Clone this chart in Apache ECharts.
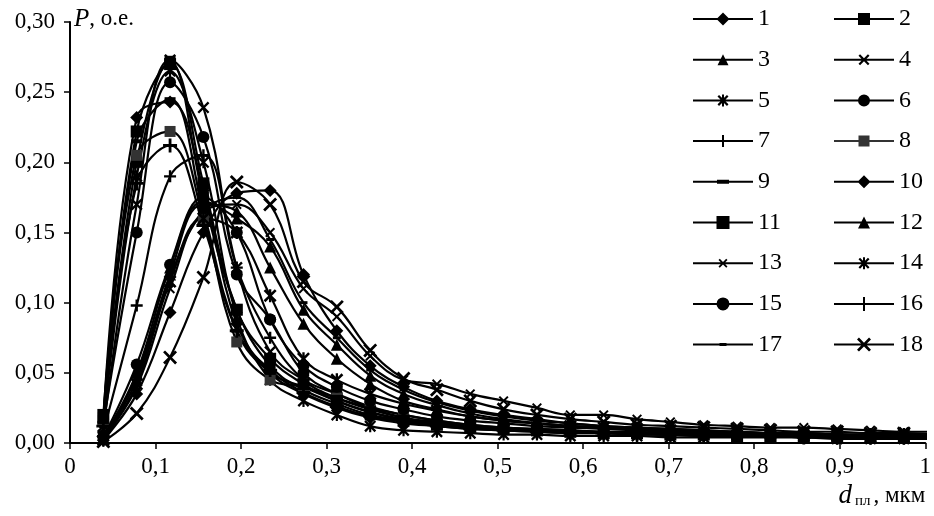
<!DOCTYPE html>
<html>
<head>
<meta charset="utf-8">
<script src="https://cdn.jsdelivr.net/npm/echarts@6/dist/echarts.min.js"></script>
<style>html,body{margin:0;padding:0;background:#fff;}#c{width:934px;height:516px;}</style>
</head>
<body>
<div id="c"></div>
<script>
// x values (d, мкм)
const xValues = [0.039,0.078,0.117,0.156,0.195,0.234,0.273,0.312,0.351,0.390,0.429,0.468,0.507,0.546,0.585,0.624,0.663,0.702,0.741,0.780,0.819,0.858,0.897,0.936,0.975,1.014];
const seriesNames = ['1','2','3','4','5','6','7','8','9','10','11','12','13','14','15','16','17','18'];
const yTicks = [0,0.05,0.10,0.15,0.20,0.25,0.30];
const xTicks = [0,0.1,0.2,0.3,0.4,0.5,0.6,0.7,0.8,0.9,1];

const p1  = [0.015,0.232,0.243,0.180,0.085,0.050,0.035,0.025,0.018,0.014,0.012,0.010,0.009,0.008,0.007,0.007,0.006,0.006,0.005,0.005,0.005,0.004,0.004,0.004,0.004,0.004];
const p2  = [0.018,0.200,0.272,0.175,0.095,0.055,0.038,0.028,0.020,0.016,0.013,0.011,0.010,0.009,0.008,0.007,0.007,0.006,0.006,0.005,0.005,0.005,0.004,0.004,0.004,0.004];
const p3  = [0.003,0.045,0.120,0.170,0.165,0.125,0.085,0.060,0.042,0.030,0.024,0.019,0.016,0.014,0.012,0.011,0.010,0.009,0.008,0.007,0.007,0.006,0.006,0.005,0.005,0.005];
const p4  = [0.010,0.170,0.273,0.239,0.125,0.065,0.045,0.035,0.026,0.020,0.016,0.013,0.011,0.010,0.009,0.008,0.007,0.007,0.006,0.006,0.005,0.005,0.005,0.005,0.004,0.004];
const p5  = [0.012,0.190,0.265,0.200,0.090,0.045,0.030,0.020,0.012,0.009,0.008,0.007,0.006,0.006,0.005,0.005,0.005,0.004,0.004,0.004,0.004,0.004,0.003,0.003,0.003,0.003];
const p6  = [0.014,0.150,0.257,0.218,0.120,0.088,0.050,0.035,0.025,0.018,0.014,0.012,0.010,0.009,0.008,0.007,0.007,0.006,0.006,0.005,0.005,0.005,0.005,0.004,0.004,0.004];
const p7  = [0.008,0.098,0.190,0.205,0.125,0.075,0.045,0.032,0.024,0.018,0.015,0.012,0.010,0.009,0.008,0.007,0.007,0.006,0.006,0.005,0.005,0.005,0.004,0.004,0.004,0.004];
const p8  = [0.016,0.205,0.222,0.160,0.072,0.045,0.040,0.032,0.025,0.020,0.016,0.013,0.011,0.010,0.009,0.008,0.008,0.007,0.007,0.006,0.006,0.006,0.005,0.005,0.005,0.005];
const p9  = [0.015,0.215,0.245,0.165,0.080,0.050,0.040,0.030,0.022,0.017,0.014,0.012,0.010,0.009,0.008,0.008,0.007,0.007,0.006,0.006,0.005,0.005,0.005,0.005,0.004,0.004];
const p10 = [0.002,0.035,0.093,0.150,0.178,0.180,0.120,0.080,0.055,0.040,0.030,0.024,0.020,0.017,0.014,0.012,0.011,0.010,0.009,0.008,0.007,0.007,0.006,0.006,0.005,0.005];
const p11 = [0.020,0.222,0.270,0.185,0.095,0.060,0.042,0.030,0.022,0.016,0.013,0.011,0.010,0.009,0.008,0.007,0.007,0.006,0.006,0.005,0.005,0.005,0.004,0.004,0.004,0.004];
const p12 = [0.004,0.050,0.125,0.172,0.160,0.140,0.095,0.070,0.048,0.035,0.027,0.021,0.017,0.014,0.012,0.011,0.010,0.009,0.008,0.007,0.007,0.006,0.006,0.005,0.005,0.005];
const p13 = [0.003,0.040,0.110,0.165,0.170,0.150,0.110,0.090,0.062,0.045,0.042,0.035,0.030,0.025,0.020,0.020,0.017,0.015,0.013,0.012,0.011,0.011,0.010,0.009,0.008,0.008];
const p14 = [0.002,0.042,0.115,0.160,0.150,0.105,0.060,0.045,0.035,0.028,0.023,0.019,0.016,0.014,0.012,0.011,0.010,0.009,0.008,0.008,0.007,0.007,0.006,0.006,0.006,0.005];
const p15 = [0.004,0.056,0.127,0.175,0.150,0.088,0.055,0.040,0.030,0.024,0.019,0.016,0.014,0.012,0.011,0.010,0.009,0.008,0.008,0.007,0.007,0.006,0.006,0.005,0.005,0.005];
const p16 = [0.012,0.185,0.212,0.155,0.080,0.052,0.036,0.026,0.019,0.015,0.012,0.010,0.009,0.008,0.007,0.007,0.006,0.006,0.005,0.005,0.005,0.004,0.004,0.004,0.004,0.004];
const p17 = [0.003,0.048,0.118,0.165,0.175,0.145,0.100,0.075,0.052,0.038,0.029,0.023,0.019,0.016,0.014,0.012,0.011,0.010,0.009,0.008,0.007,0.007,0.006,0.006,0.005,0.005];
const p18 = [0.001,0.021,0.061,0.118,0.186,0.170,0.115,0.097,0.066,0.046,0.038,0.030,0.024,0.020,0.017,0.015,0.013,0.012,0.011,0.010,0.009,0.008,0.008,0.007,0.007,0.006];
const allValues = [p1,p2,p3,p4,p5,p6,p7,p8,p9,p10,p11,p12,p13,p14,p15,p16,p17,p18];

// ---- marker shapes ----
const PLUS = 'path://M4,0 L6,0 L6,4 L10,4 L10,6 L6,6 L6,10 L4,10 L4,6 L0,6 L0,4 L4,4 Z';
const CROSS = 'path://M0,1.4 L1.4,0 L5,3.6 L8.6,0 L10,1.4 L6.4,5 L10,8.6 L8.6,10 L5,6.4 L1.4,10 L0,8.6 L3.6,5 Z';
const STAR = CROSS + ' M4.1,0 L5.9,0 L5.9,10 L4.1,10 Z';
const DASH = 'path://M0,0 L10,0 L10,4 L0,4 Z';

function f(n){return +n.toFixed(2);}
const LW = 60, LH = 14, CX = 30, CY = 7;
function lgLine(){return `M0,${CY-1} L${LW},${CY-1} L${LW},${CY+1} L0,${CY+1} Z M${CX},0 L${CX+0.1},0 L${CX+0.1},0.1 Z M${CX},${LH} L${CX+0.1},${LH-0.1} L${CX+0.1},${LH} Z `;}
function lgDiamond(s){const h=s/2;return `M${CX},${f(CY-h)} L${f(CX+h)},${CY} L${CX},${f(CY+h)} L${f(CX-h)},${CY} Z`;}
function lgRect(w,h){return `M${f(CX-w/2)},${f(CY-h/2)} L${f(CX+w/2)},${f(CY-h/2)} L${f(CX+w/2)},${f(CY+h/2)} L${f(CX-w/2)},${f(CY+h/2)} Z`;}
function lgTri(s){const h=s/2;return `M${CX},${f(CY-h)} L${f(CX+h)},${f(CY+h)} L${f(CX-h)},${f(CY+h)} Z`;}
function lgCircle(r){return `M${f(CX-r)},${CY} A${r},${r} 0 0 1 ${f(CX+r)},${CY} A${r},${r} 0 0 1 ${f(CX-r)},${CY} Z`;}
function lgCross(s){const k=s/10, ox=CX-s/2, oy=CY-s/2;
  const pts=[[0,1.4],[1.4,0],[5,3.6],[8.6,0],[10,1.4],[6.4,5],[10,8.6],[8.6,10],[5,6.4],[1.4,10],[0,8.6],[3.6,5]];
  return 'M'+pts.map(p=>f(ox+p[0]*k)+','+f(oy+p[1]*k)).join(' L')+' Z';}
function icon(m){return 'path://'+lgLine()+m;}

const markers = {
  '1':  {symbol:'diamond', size:13, icon: icon(lgDiamond(13))},
  '2':  {symbol:'rect', size:11, icon: icon(lgRect(12,12))},
  '3':  {symbol:'triangle', size:12, icon: icon(lgTri(11))},
  '4':  {symbol:CROSS, size:12, icon: icon(lgCross(11))},
  '5':  {symbol:STAR, size:12, icon: icon(lgCross(11)+' '+lgRect(2,12))},
  '6':  {symbol:'circle', size:12, icon: icon(lgCircle(6))},
  '7':  {symbol:PLUS, size:12, icon: icon(lgRect(2,12))},
  '8':  {symbol:'rect', size:11, icon: icon(lgRect(11,11)), color:'#333'},
  '9':  {symbol:DASH, size:[11,4], icon: icon(lgRect(12,4))},
  '10': {symbol:'diamond', size:13, icon: icon(lgDiamond(13))},
  '11': {symbol:'rect', size:12, icon: icon(lgRect(13,13))},
  '12': {symbol:'triangle', size:12, icon: icon(lgTri(12))},
  '13': {symbol:CROSS, size:10, icon: icon(lgCross(9))},
  '14': {symbol:STAR, size:13, icon: icon(lgCross(11)+' '+lgRect(2,12))},
  '15': {symbol:'circle', size:12, icon: icon(lgCircle(6.5))},
  '16': {symbol:PLUS, size:14, icon: icon(lgRect(2,14))},
  '17': {symbol:DASH, size:[8,3], icon: icon(lgRect(7,3))},
  '18': {symbol:CROSS, size:14, icon: icon(lgCross(14))}
};

const series = seriesNames.map((name,i)=>{
  const m = markers[name];
  const col = m.color || '#000';
  return {
    name: name,
    type: 'line',
    smooth: 0.4,
    data: xValues.map((x,j)=>[x, allValues[i][j]]),
    symbol: m.symbol,
    symbolSize: m.size,
    showAllSymbol: true,
    lineStyle: {color:'#000', width:2.2},
    itemStyle: {color: col, borderWidth:0},
    emphasis: {disabled:true},
    animation: false,
    z: 2
  };
});

const TXT = {fontFamily:'Liberation Serif', color:'#000'};
function legendData(names){return names.map(n=>({name:n, icon: markers[n].icon}));}
function legendCfg(names, left){
  return {data: legendData(names), orient:'vertical', left:left, top:7, padding:0,
    itemWidth:LW, itemHeight:LH, itemGap:16.7, selectedMode:false, symbolKeepAspect:true,
    textStyle:Object.assign({fontSize:24, padding:[0,0,0,0]}, TXT)};
}

const chart = echarts.init(document.getElementById('c'));
chart.setOption({
  backgroundColor:'#fff',
  animation:false,
  grid:{left:70, right:6, top:22, bottom:73, containLabel:false},
  legend:[
    legendCfg(['1','3','5','7','9','11','13','15','17'], 693),
    legendCfg(['2','4','6','8','10','12','14','16','18'], 834)
  ],
  xAxis:{
    type:'value', min:xTicks[0], max:xTicks[xTicks.length-1], interval:0.1,
    axisLine:{lineStyle:{color:'#000', width:2}},
    axisTick:{show:true, inside:false, length:6, lineStyle:{color:'#000', width:1.5}},
    splitLine:{show:false},
    axisLabel:Object.assign({fontSize:23, margin:12, formatter:v=>{
      if (Math.abs(v)<1e-9) return '0';
      if (Math.abs(v-1)<1e-9) return '1';
      return v.toFixed(1).replace('.',',');}}, TXT),
    name:'{i|d}{s|пл}{n|, мкм}', nameLocation:'end', nameGap:0,
    nameTextStyle:{align:'right', verticalAlign:'top', padding:[40,0,0,0],
      rich:{i:{fontFamily:'Liberation Serif', fontStyle:'italic', fontSize:27, color:'#000', lineHeight:26},
            s:{fontFamily:'Liberation Serif', fontSize:15, color:'#000', lineHeight:26, verticalAlign:'bottom', padding:[0,3,0,3]},
            n:{fontFamily:'Liberation Serif', fontSize:23, color:'#000', lineHeight:26}}}
  },
  yAxis:{
    type:'value', min:yTicks[0], max:yTicks[yTicks.length-1], interval:0.05,
    axisLine:{show:true, lineStyle:{color:'#000', width:2}},
    axisTick:{show:true, inside:false, length:6, lineStyle:{color:'#000', width:1.5}},
    splitLine:{show:false},
    axisLabel:Object.assign({fontSize:23, margin:15, formatter:v=>v.toFixed(2).replace('.',',')}, TXT),
    name:'{i|P}{n|, о.е.}', nameLocation:'end', nameGap:3,
    nameTextStyle:{align:'left', verticalAlign:'middle', padding:[0,0,0,4],
      rich:{i:{fontFamily:'Liberation Serif', fontStyle:'italic', fontSize:25, color:'#000'},
            n:{fontFamily:'Liberation Serif', fontSize:23, color:'#000'}}}
  },
  series: series
});
</script>
</body>
</html>
